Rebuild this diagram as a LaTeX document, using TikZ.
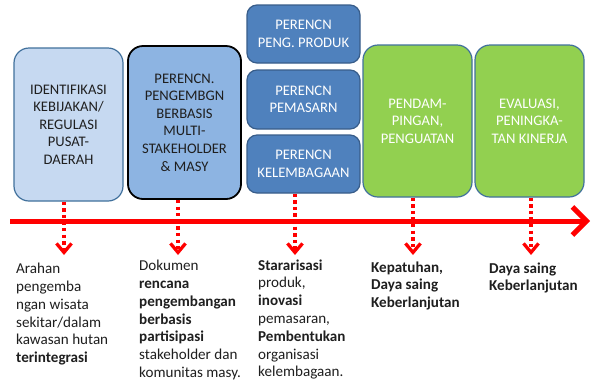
\documentclass[tikz,border=0pt]{standalone}
\usepackage{fontspec}
\setmainfont{Carlito}
\usetikzlibrary{arrows.meta}
\definecolor{lightbox}{HTML}{C6D9F1}
\definecolor{lightedge}{HTML}{41719C}
\definecolor{midbox}{HTML}{8DB4E2}
\definecolor{darkbox}{HTML}{4F81BD}
\definecolor{darkedge}{HTML}{385D8A}
\definecolor{greenbox}{HTML}{92D050}
\definecolor{txtdark}{HTML}{1F1F1F}
\tikzset{
  boxbase/.style={rounded corners=15pt, align=center, inner sep=0pt, line width=1.2pt,
    font=\fontsize{14.6}{17.6}\selectfont},
  bigbox/.style={boxbase, minimum width=109pt, minimum height=153pt},
  smallbox/.style={boxbase, rounded corners=10pt, fill=darkbox, draw=darkedge, text=white,
    minimum width=113pt, minimum height=58pt},
  dotline/.style={draw=red, line width=3.3pt, dash pattern=on 3.3pt off 3.3pt,
    -{Straight Barb[length=9pt,width=15pt]}},
  mainarrow/.style={draw=red, line width=5pt, -{Straight Barb[length=14pt,width=28pt]}},
  outtxt/.style={anchor=north west, align=left, inner sep=0pt, text=txtdark,
    font=\fontsize{15.1}{17.8}\selectfont}
}
\begin{document}
\begin{tikzpicture}[x=1pt,y=-1pt]
\useasboundingbox[fill=white] (0,0) rectangle (593,384);

% boxes
\node[bigbox, fill=lightbox, draw=lightedge, text=txtdark] (b1) at (68.5,124.5)
  {IDENTIFIKASI\\KEBIJAKAN/\\REGULASI\\PUSAT-\\DAERAH};
\node[bigbox, minimum width=113pt, fill=midbox, draw=black, line width=1.8pt, text=txtdark] (b2) at (184.5,122.5)
  {PERENCN.\\PENGEMBGN\\BERBASIS\\MULTI-\\STAKEHOLDER\\\& MASY};
\node[smallbox] (s1) at (303.5,34) {PERENCN\\PENG. PRODUK};
\node[smallbox, minimum height=59pt] (s2) at (303.5,99.5) {PERENCN\\PEMASARN};
\node[smallbox] (s3) at (303.5,164) {PERENCN\\KELEMBAGAAN};
\node[bigbox, minimum height=152pt, fill=greenbox, draw=lightedge, text=white] (g1) at (417.5,121)
  {PENDAM-\\PINGAN,\\PENGUATAN};
\node[bigbox, minimum height=152pt, fill=greenbox, draw=lightedge, text=white] (g2) at (529.5,121)
  {EVALUASI,\\PENINGKA-\\TAN KINERJA};

% main arrow
\coordinate (mstart) at (10,221);
\coordinate (mend) at (590,221);
\draw[mainarrow] (mstart) -- (mend);

% dotted connectors
\coordinate (e1) at (64,255);
\coordinate (e2) at (178,255);
\coordinate (e3) at (295,255);
\coordinate (e4) at (413,255);
\coordinate (e5) at (531,255);
\draw[dotline] (b1.south -| e1) -- (e1);
\draw[dotline] (b2.south -| e2) -- (e2);
\draw[dotline] (s3.south -| e3) -- (e3);
\draw[dotline] (g1.south -| e4) -- (e4);
\draw[dotline] (g2.south -| e5) -- (e5);

% outputs (y = first baseline - strut height 12.46)
\node[outtxt] (t1) at (16,261) {\strut Arahan\\pengemba\\ngan wisata\\sekitar/dalam\\kawasan hutan\\\textbf{terintegrasi}};
\node[outtxt] (t2) at (139,258) {\strut Dokumen\\\textbf{rencana}\\\textbf{pengembangan}\\\textbf{berbasis}\\\textbf{partisipasi}\\stakeholder dan\\komunitas masy.};
\node[outtxt] (t3) at (258,257.5) {\strut\textbf{Stararisasi}\\produk,\\\textbf{inovasi}\\pemasaran,\\\textbf{Pembentukan}\\organisasi\\kelembagaan.};
\node[outtxt] (t4) at (371,259.5) {\strut\textbf{Kepatuhan,}\\\textbf{Daya saing}\\\textbf{Keberlanjutan}};
\node[outtxt] (t5) at (489,260.5) {\strut\textbf{Daya saing}\\\textbf{Keberlanjutan}};
\end{tikzpicture}
\end{document}
